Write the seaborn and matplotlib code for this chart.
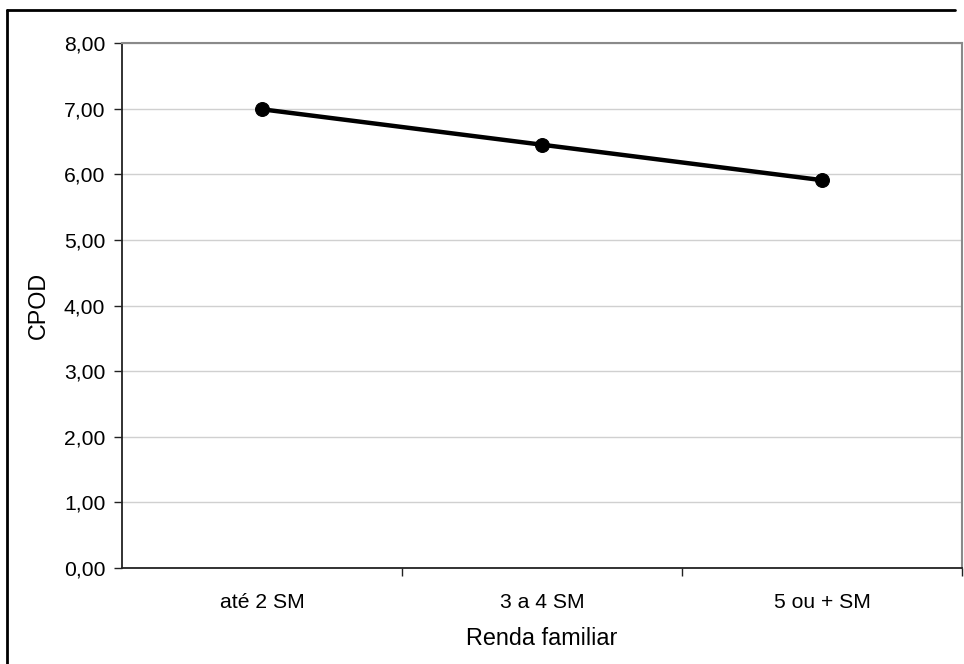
import matplotlib
matplotlib.use("Agg")
import matplotlib.pyplot as plt
import seaborn as sns
import pandas as pd
from matplotlib.lines import Line2D
from matplotlib.ticker import FixedLocator, FuncFormatter

categories = ["até 2 SM", "3 a 4 SM", "5 ou + SM"]
cpod = [6.99, 6.45, 5.91]
y_ticks = [0, 1, 2, 3, 4, 5, 6, 7, 8]

sns.set_theme(style="white")
plt.rcParams['font.family'] = ['Liberation Sans', 'DejaVu Sans']

df = pd.DataFrame({"Renda familiar": categories, "CPOD": cpod})

fig = plt.figure(figsize=(9.64, 6.64), dpi=100)
ax = fig.add_axes([122/964, (664-568)/664, (962-122)/964, (568-43)/664])

sns.lineplot(data=df, x="Renda familiar", y="CPOD", ax=ax, color="black",
             linewidth=3.2, marker="o", markersize=10, markeredgecolor="black",
             sort=False, zorder=5)

ax.set_xlim(-0.5, 2.5)
ax.set_ylim(0, 8)
ax.set_yticks(y_ticks)
ax.yaxis.set_major_formatter(FuncFormatter(lambda v, p: f"{v:.2f}".replace(".", ",")))
ax.set_xticks(range(len(categories)))
ax.set_xticklabels(categories)
ax.xaxis.set_minor_locator(FixedLocator([0.5, 1.5, 2.5]))

ax.grid(axis="y", color="#d0d0d0", linewidth=1.0)
ax.set_axisbelow(True)

for s in ["left", "bottom"]:
    ax.spines[s].set_color("#222222")
    ax.spines[s].set_linewidth(1.3)
for s in ["top", "right"]:
    ax.spines[s].set_color("#8a8a8a")
    ax.spines[s].set_linewidth(1.5)
    ax.spines[s].set_visible(True)

ax.tick_params(axis="y", which="major", length=6, width=1, color="#222222", direction="out",
               labelsize=15.2, pad=6, left=True, labelcolor="black")
ax.tick_params(axis="x", which="major", length=0, labelsize=15.2, pad=18, labelcolor="black")
ax.tick_params(axis="x", which="minor", length=6, width=1, color="#222222", direction="out", bottom=True)

ax.set_xlabel("Renda familiar", fontsize=16.8, labelpad=11, color="black")
ax.set_ylabel("CPOD", fontsize=16.8, labelpad=10, color="black")

# outer chart frame (left and top edges visible)
fig.add_artist(Line2D([7/964, 7/964], [0, 1-10/664], transform=fig.transFigure, color="black", linewidth=2))
fig.add_artist(Line2D([7/964, 955/964], [1-10/664, 1-10/664], transform=fig.transFigure, color="black", linewidth=2))

fig.savefig("out.png", dpi=100)
